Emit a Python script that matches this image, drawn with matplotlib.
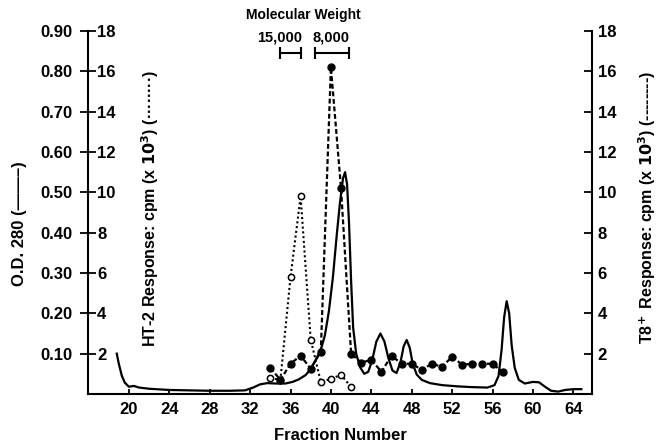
import matplotlib
matplotlib.use('Agg')
import matplotlib.pyplot as plt

plt.rcParams['font.family'] = ['Liberation Sans', 'DejaVu Sans']
plt.rcParams['font.weight'] = 'bold'
plt.rcParams['axes.labelweight'] = 'bold'
plt.rcParams['mathtext.default'] = 'bf'

# ---- data ----
# O.D. 280 trace (solid)
od_frac = [18.8, 19.0, 19.3, 19.6, 20.0, 20.5, 21.0, 22.0, 24.0, 26.0, 28.0,
           30.0, 31.5, 32.3, 33.0, 33.7, 34.5, 35.5, 36.2, 36.8, 37.5, 38.0,
           38.5, 39.0, 39.4, 39.8, 40.2, 40.6, 40.9, 41.2, 41.4, 41.6, 41.8,
           42.0, 42.2, 42.5, 42.9, 43.3, 43.7, 44.1, 44.5, 44.9, 45.3, 45.7,
           46.1, 46.5, 46.9, 47.2, 47.5, 47.8, 48.1, 48.5, 49.0, 49.8, 51.0,
           52.5, 54.0, 55.5, 56.2, 56.6, 56.9, 57.15, 57.4, 57.65, 57.9, 58.2,
           58.6, 59.2, 60.0, 60.6, 61.2, 61.8, 62.5, 63.2, 64.0, 64.8]
od_vals = [0.100, 0.075, 0.045, 0.028, 0.018, 0.020, 0.016, 0.013, 0.010,
           0.009, 0.008, 0.008, 0.009, 0.016, 0.024, 0.027, 0.026, 0.026,
           0.030, 0.036, 0.047, 0.062, 0.085, 0.110, 0.145, 0.205, 0.290,
           0.400, 0.475, 0.535, 0.550, 0.520, 0.420, 0.280, 0.165, 0.100,
           0.066, 0.050, 0.055, 0.085, 0.130, 0.150, 0.130, 0.088, 0.058,
           0.052, 0.080, 0.118, 0.134, 0.115, 0.075, 0.048, 0.035, 0.027,
           0.022, 0.019, 0.017, 0.016, 0.022, 0.045, 0.110, 0.190, 0.230,
           0.200, 0.120, 0.065, 0.035, 0.026, 0.030, 0.029, 0.018, 0.008,
           0.006, 0.010, 0.012, 0.012]

# HT-2 response (dotted, open circles), cpm x 10^3
ht2_frac = [34, 35, 36, 37, 38, 39, 40, 41, 42]
ht2_cpm = [0.8, 0.7, 5.8, 9.8, 2.7, 0.6, 0.75, 0.95, 0.35]

# T8+ response (dashed, filled circles), cpm x 10^3
t8_frac = [34, 35, 36, 37, 38, 39, 40, 41, 42, 43, 44, 45, 46, 47, 48, 49,
           50, 51, 52, 53, 54, 55, 56, 57]
t8_cpm = [1.3, 0.7, 1.5, 1.9, 1.25, 2.1, 16.2, 10.2, 2.0, 1.55, 1.7, 1.1,
          1.9, 1.5, 1.5, 1.2, 1.5, 1.35, 1.85, 1.45, 1.5, 1.5, 1.5, 1.1]

# molecular weight markers
mw_labels = ['15,000', '8,000']
mw_ranges = [(35.0, 37.0), (38.4, 41.8)]
mw_text_x = [34.95, 40.0]

x_ticks = list(range(20, 65, 4))
od_ticks = [0.1, 0.2, 0.3, 0.4, 0.5, 0.6, 0.7, 0.8, 0.9]
cpm_ticks = list(range(2, 19, 2))

W, H = 663, 444
fig = plt.figure(figsize=(W / 100, H / 100), dpi=100)
ax = fig.add_axes([88 / W, 1 - 394 / H, (592 - 88) / W, (394 - 31) / H])

ax.plot(od_frac, od_vals, color='black', lw=1.6, solid_joinstyle='round')
ax.set_xlim(15.95, 65.85)
ax.set_ylim(0, 0.9)

for s in ['top', 'right']:
    ax.spines[s].set_visible(False)
for s in ['left', 'bottom']:
    ax.spines[s].set_linewidth(1.5)

ax.set_xticks(x_ticks)
ax.tick_params(axis='x', direction='in', length=3.5, width=1.3, pad=6,
               labelsize=12)
ax.set_yticks(od_ticks)
ax.set_yticklabels([f'{v:.2f}' for v in od_ticks])
ax.tick_params(axis='y', direction='inout', length=11, width=1.3, pad=5.5,
               labelsize=12)
ax.set_xlabel('Fraction Number', fontsize=12, labelpad=8)
ax.set_ylabel('O.D. 280 (\u2014\u2014\u2013)', fontsize=12, va='center')
ax.yaxis.set_label_coords(-0.135, 0.47)

# inner HT-2 scale on the left spine
sec = ax.secondary_yaxis('left', functions=(lambda v: v * 20, lambda v: v / 20))
sec.set_yticks(cpm_ticks)
sec.spines['left'].set_visible(False)
sec.tick_params(axis='y', direction='in', length=0, pad=-6.5, labelsize=12)
for t in sec.get_yticklabels():
    t.set_horizontalalignment('left')

ax.text(0.123, 0.51, 'HT-2 Response: cpm (x $10^3$) (\u00b7\u00b7\u00b7\u00b7\u00b7\u00b7\u00b7\u00b7)',
        transform=ax.transAxes, rotation=90, ha='center', va='center',
        fontsize=11.5)

# right T8+ axis
ax2 = ax.twinx()
ax2.set_ylim(0, 18)
for s in ['top', 'left', 'bottom']:
    ax2.spines[s].set_visible(False)
ax2.spines['right'].set_linewidth(1.5)
ax2.set_yticks(cpm_ticks)
ax2.tick_params(axis='y', direction='in', length=6, width=1.3, pad=4,
                labelsize=12)
ax2.set_ylabel('T8$^{\\!+}$ Response: cpm (x $10^3$) (--------)',
               fontsize=11.5, va='center')
ax2.yaxis.set_label_coords(1.109, 0.515)

ax2.plot(ht2_frac, ht2_cpm, color='black', lw=1.5, ls=(0, (1, 1.3)),
         marker='o', ms=4.5, mfc='white', mec='black', mew=1.1)
ax2.plot(t8_frac, t8_cpm, color='black', lw=1.6, ls=(0, (2.2, 1.2)),
         marker='o', ms=5, mfc='black', mec='black')

# molecular weight brackets
for lab, (a, b), tx in zip(mw_labels, mw_ranges, mw_text_x):
    ax.plot([a, b], [0.846, 0.846], color='black', lw=1.5, marker='|',
            ms=8, mew=1.5, clip_on=False)
    ax.text(tx, 0.883, lab, ha='center', va='center', fontsize=10.5)
ax.text(37.3, 0.94, 'Molecular Weight', ha='center', va='center',
        fontsize=10)

fig.savefig('out.png', dpi=100)
